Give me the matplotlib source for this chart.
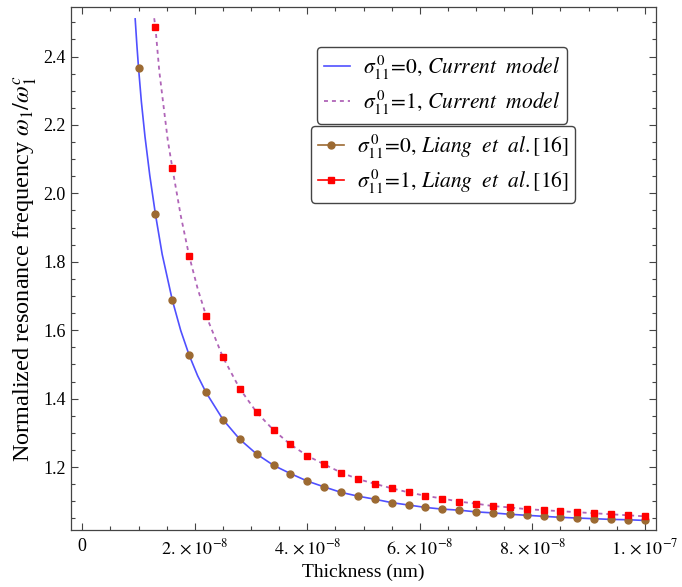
import matplotlib
matplotlib.use("Agg")
import matplotlib.pyplot as plt
from matplotlib.ticker import MultipleLocator, FixedLocator, FixedFormatter
from matplotlib.lines import Line2D

plt.rcParams['font.family'] = ['Liberation Serif', 'DejaVu Serif']
plt.rcParams['mathtext.fontset'] = 'stix'

# ---- data (thickness in units of 1e-8) ----
x_pts = [1.0, 1.3, 1.6, 1.9, 2.2, 2.5, 2.8, 3.1, 3.4, 3.7, 4.0, 4.3, 4.6, 4.9,
         5.2, 5.5, 5.8, 6.1, 6.4, 6.7, 7.0, 7.3, 7.6, 7.9, 8.2, 8.5, 8.8, 9.1,
         9.4, 9.7, 10.0]
liang_s0 = [2.366, 1.939, 1.688, 1.527, 1.418, 1.339, 1.281, 1.238, 1.205, 1.181,
            1.159, 1.142, 1.126, 1.115, 1.106, 1.096, 1.089, 1.082, 1.077, 1.074,
            1.069, 1.066, 1.062, 1.059, 1.056, 1.053, 1.051, 1.049, 1.047, 1.046,
            1.044]
x_pts_s1 = x_pts[1:]
liang_s1 = [2.485, 2.075, 1.817, 1.643, 1.521, 1.429, 1.360, 1.308, 1.266, 1.233,
            1.208, 1.184, 1.165, 1.151, 1.138, 1.126, 1.116, 1.108, 1.099, 1.093,
            1.086, 1.082, 1.077, 1.074, 1.071, 1.068, 1.065, 1.062, 1.059, 1.056]

# current model curves
x_cur0 = [0.94, 0.97, 1.0, 1.05, 1.115, 1.2, 1.3, 1.42, 1.6, 1.75, 1.9, 2.05, 2.2,
          2.5, 2.8, 3.1, 3.4, 3.7, 4.0, 4.3, 4.6, 4.9, 5.2, 5.5, 5.8, 6.1, 6.4,
          6.7, 7.0, 7.3, 7.6, 7.9, 8.2, 8.5, 8.8, 9.1, 9.4, 9.7, 10.0]
cur_s0 = [2.510, 2.434, 2.366, 2.268, 2.165, 2.052, 1.939, 1.822, 1.688, 1.599,
          1.527, 1.467, 1.418, 1.339, 1.281, 1.238, 1.205, 1.181, 1.159, 1.142,
          1.126, 1.115, 1.106, 1.096, 1.089, 1.082, 1.077, 1.074, 1.069, 1.066,
          1.062, 1.059, 1.056, 1.053, 1.051, 1.049, 1.047, 1.046, 1.044]
x_cur1 = [1.278, 1.3, 1.37, 1.452, 1.52, 1.6, 1.75, 1.9, 2.05, 2.2, 2.5, 2.8, 3.1,
          3.4, 3.7, 4.0, 4.3, 4.6, 4.9, 5.2, 5.5, 5.8, 6.1, 6.4, 6.7, 7.0, 7.3,
          7.6, 7.9, 8.2, 8.5, 8.8, 9.1, 9.4, 9.7, 10.0]
cur_s1 = [2.512, 2.485, 2.355, 2.245, 2.155, 2.075, 1.935, 1.817, 1.722, 1.643,
          1.521, 1.429, 1.360, 1.308, 1.266, 1.233, 1.208, 1.184, 1.165, 1.151,
          1.138, 1.126, 1.116, 1.108, 1.099, 1.093, 1.086, 1.082, 1.077, 1.074,
          1.071, 1.068, 1.065, 1.062, 1.059, 1.056]

x_ticks = [0, 2, 4, 6, 8, 10]
x_tick_labels = ["0", r"$2.\times10^{-8}$", r"$4.\times10^{-8}$", r"$6.\times10^{-8}$",
                 r"$8.\times10^{-8}$", r"$1.\times10^{-7}$"]
y_ticks = [1.2, 1.4, 1.6, 1.8, 2.0, 2.2, 2.4]
y_tick_labels = ["1.2", "1.4", "1.6", "1.8", "2.0", "2.2", "2.4"]

labels = [r"$\sigma_{\mathit{11}}^{\,\mathit{0}}\!=\!\mathit{0},\,Current\ \ model$",
          r"$\sigma_{\mathit{11}}^{\,\mathit{0}}\!=\!\mathit{1},\,Current\ \ model$",
          r"$\sigma_{\mathit{11}}^{\,\mathit{0}}\!=\!\mathit{0},\,Liang\ \ et\ \ al.\mathit{[16]}$",
          r"$\sigma_{\mathit{11}}^{\,\mathit{0}}\!=\!\mathit{1},\,Liang\ \ et\ \ al.\mathit{[16]}$"]

blue = "#5050ff"
purple = "#b065b8"
brown = "#9c6a32"
red = "#ff0000"

fig = plt.figure(figsize=(6.82, 5.87), dpi=100)
ax = fig.add_axes([0.1037, 0.0971, 0.8582, 0.8905])

ax.plot(x_cur0, cur_s0, color=blue, lw=1.2, zorder=2)
ax.plot(x_cur1, cur_s1, color=purple, lw=1.3, ls=(0, (2.2, 2.2)), zorder=2)
ax.plot(x_pts, liang_s0, ls='none', marker='o', ms=5, color=brown, zorder=3)
ax.plot(x_pts_s1, liang_s1, ls='none', marker='s', ms=4.8, color=red, zorder=3)

ax.set_xlim(-0.206, 10.2)
ax.set_ylim(1.016, 2.544)

ax.xaxis.set_major_locator(FixedLocator(x_ticks))
ax.xaxis.set_major_formatter(FixedFormatter(x_tick_labels))
ax.xaxis.set_minor_locator(MultipleLocator(0.5))
ax.yaxis.set_major_locator(FixedLocator(y_ticks))
ax.yaxis.set_major_formatter(FixedFormatter(y_tick_labels))
ax.yaxis.set_minor_locator(MultipleLocator(0.05))

ax.tick_params(which='both', direction='in', top=True, right=True, color='#444444',
               width=0.8, labelsize=13)
ax.tick_params(which='major', length=5)
ax.tick_params(which='minor', length=2.8)
ax.tick_params(axis='x', pad=6)
for s in ax.spines.values():
    s.set_color('#444444')
    s.set_linewidth(0.9)

ax.set_xlabel("Thickness (nm)", fontsize=14, labelpad=4)
ax.set_ylabel(r"Normalized resonance frequency $\omega_1/\omega_1^c$", fontsize=17.5, labelpad=3)

h1 = Line2D([], [], color=blue, lw=1.2)
h2 = Line2D([], [], color=purple, lw=1.3, ls=(0, (2.2, 2.2)))
h3 = Line2D([], [], color=brown, lw=1.2, marker='o', ms=5)
h4 = Line2D([], [], color=red, lw=1.2, marker='s', ms=4.8)

common = dict(loc='upper left', borderaxespad=0, fontsize=15.5, frameon=True,
              fancybox=True, handlelength=1.2, handletextpad=0.6, labelspacing=0.3,
              borderpad=0.32, edgecolor='#444444', framealpha=1)
leg1 = ax.legend([h1, h2], labels[:2], bbox_to_anchor=(0.421, 0.924), **common)
leg1.get_frame().set_linewidth(1.0)
ax.add_artist(leg1)
leg2 = ax.legend([h3, h4], labels[2:], bbox_to_anchor=(0.4105, 0.773), **common)
leg2.get_frame().set_linewidth(1.0)

fig.savefig("out.png", dpi=100)
